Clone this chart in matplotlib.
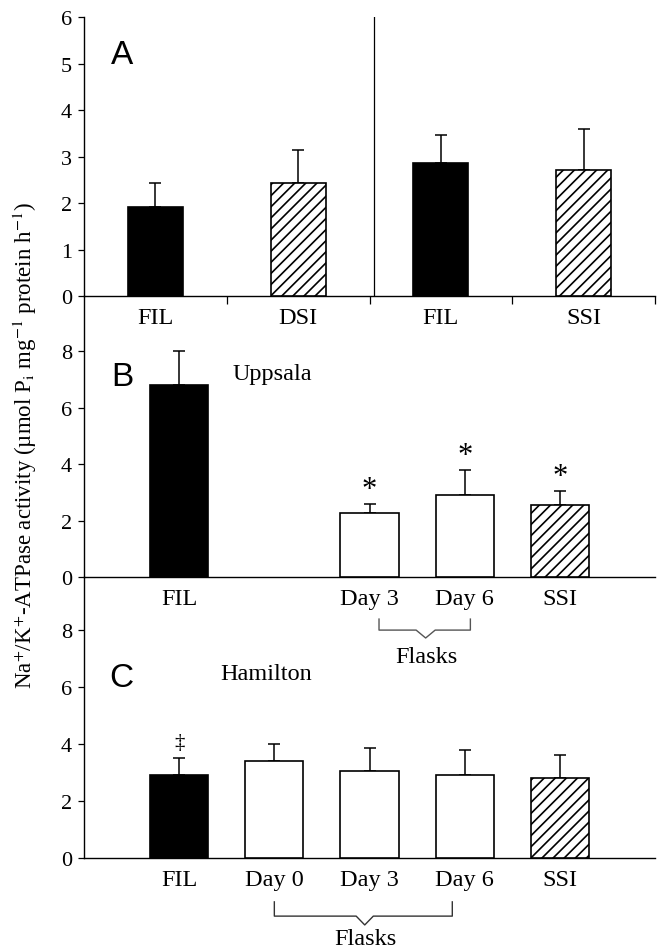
import matplotlib
matplotlib.use("Agg")
import matplotlib.pyplot as plt

plt.rcParams["font.family"] = ["Liberation Serif", "DejaVu Serif"]
plt.rcParams["mathtext.fontset"] = "stix"
plt.rcParams["hatch.linewidth"] = 1.2

# panel A
a_labels = ["FIL", "DSI", "FIL", "SSI"]
a_means = [1.92, 2.43, 2.86, 2.71]
a_err = [0.51, 0.71, 0.60, 0.89]
a_hatched = [False, True, False, True]

# panel B (Uppsala)
b_labels = ["FIL", "Day 3", "Day 6", "SSI"]
b_slots = [1, 3, 4, 5]
b_means = [6.80, 2.25, 2.90, 2.55]
b_err = [1.20, 0.35, 0.90, 0.50]
b_kind = ["fil", "flask", "flask", "ssi"]
b_star = [False, True, True, True]

# panel C (Hamilton)
c_labels = ["FIL", "Day 0", "Day 3", "Day 6", "SSI"]
c_slots = [1, 2, 3, 4, 5]
c_means = [2.90, 3.39, 3.04, 2.89, 2.80]
c_err = [0.60, 0.61, 0.80, 0.90, 0.80]
c_kind = ["fil", "flask", "flask", "flask", "ssi"]

TICK_FS = 16
LAB_FS = 17.5
PANEL_FONT = ["Liberation Sans Narrow", "Liberation Sans"]


def bar_style(kind):
    if kind == "fil":
        return dict(color="black", edgecolor="black")
    if kind == "ssi":
        return dict(color="white", edgecolor="black", hatch="///")
    return dict(color="white", edgecolor="black")


def setup_axis(ax, yticks):
    ax.patch.set_visible(False)
    for s in ["top", "right"]:
        ax.spines[s].set_visible(False)
    ax.spines["left"].set_linewidth(1.0)
    ax.spines["bottom"].set_linewidth(1.0)
    ax.set_yticks(yticks)
    ax.tick_params(axis="y", direction="out", length=4.5, width=0.9,
                   labelsize=TICK_FS, pad=4)


fig = plt.figure(figsize=(6.58, 9.53), dpi=100)
W, H = 658.0, 953.0
left = 84 / W
width = (655 - 84) / W

# ---- A ----
axA = fig.add_axes([left, 1 - 297 / H, width, (297 - 18) / H])
a_x = [i + 0.5 for i in range(len(a_labels))]
for x, m, e, h in zip(a_x, a_means, a_err, a_hatched):
    st = bar_style("ssi" if h else "fil")
    axA.bar(x, m, width=0.385, linewidth=1.2, zorder=3, **st)
    axA.errorbar(x, m, yerr=[[0], [e]], fmt="none", ecolor="black",
                 elinewidth=1.1, capsize=4.5, capthick=1.1, zorder=2)
axA.set_xlim(0, 4)
axA.set_ylim(0, 6)
setup_axis(axA, range(0, 7))
axA.set_xticks([1, 2, 3, 4])
axA.set_xticklabels([])
axA.tick_params(axis="x", which="major", direction="out", length=5.5, width=0.9)
axA.set_xticks(a_x, minor=True)
axA.set_xticklabels(a_labels, minor=True)
axA.tick_params(axis="x", which="minor", length=0, labelsize=LAB_FS, pad=8)
axA.axvline(2.03, color="black", lw=0.9)
axA.text(0.27, 5.2, "A", family=PANEL_FONT, fontsize=24, ha="center", va="center")

# ---- B ----
axB = fig.add_axes([left, 1 - 578 / H, width, (578 - 297) / H])
for x, m, e, k, s in zip(b_slots, b_means, b_err, b_kind, b_star):
    axB.bar(x, m, width=0.61, linewidth=1.2, zorder=3, **bar_style(k))
    axB.errorbar(x, m, yerr=[[0], [e]], fmt="none", ecolor="black",
                 elinewidth=1.1, capsize=4.5, capthick=1.1, zorder=2)
    if s:
        axB.text(x, m + e + 0.0, "*", fontsize=22, ha="center", va="bottom")
axB.set_xlim(0, 6)
axB.set_ylim(0, 9.95)
setup_axis(axB, [0, 2, 4, 6, 8])
axB.set_xticks(b_slots)
axB.set_xticklabels(b_labels)
axB.tick_params(axis="x", length=0, labelsize=LAB_FS, pad=8)
axB.text(0.4, 7.1, "B", family=PANEL_FONT, fontsize=24, ha="center", va="center")
axB.text(1.56, 7.2, "Uppsala", fontsize=LAB_FS, ha="left", va="center")
# bracket under Day 3 / Day 6
bx = [3.1, 3.1, 3.49, 3.59, 3.69, 4.06, 4.06]
by = [-1.49, -1.88, -1.88, -2.16, -1.88, -1.88, -1.49]
axB.plot(bx, by, color="#555555", lw=1.0, clip_on=False)
axB.text(3.6, -2.8, "Flasks", fontsize=LAB_FS, ha="center", va="center")

# ---- C ----
axC = fig.add_axes([left, 1 - 858.7 / H, width, (858.7 - 578) / H])
for x, m, e, k in zip(c_slots, c_means, c_err, c_kind):
    axC.bar(x, m, width=0.61, linewidth=1.2, zorder=3, **bar_style(k))
    axC.errorbar(x, m, yerr=[[0], [e]], fmt="none", ecolor="black",
                 elinewidth=1.1, capsize=4.5, capthick=1.1, zorder=2)
axC.text(c_slots[0], c_means[0] + c_err[0] + 0.2, "\u2021", fontsize=15,
         ha="center", va="bottom")
axC.set_xlim(0, 6)
axC.set_ylim(0, 9.85)
setup_axis(axC, [0, 2, 4, 6, 8])
axC.set_xticks(c_slots)
axC.set_xticklabels(c_labels)
axC.tick_params(axis="x", length=0, labelsize=LAB_FS, pad=8)
axC.text(0.39, 6.34, "C", family=PANEL_FONT, fontsize=24, ha="center", va="center")
axC.text(1.43, 6.48, "Hamilton", fontsize=LAB_FS, ha="left", va="center")
cx = [2.0, 2.0, 2.86, 2.95, 3.04, 3.87, 3.87]
cy = [-1.55, -2.05, -2.05, -2.36, -2.05, -2.05, -1.55]
axC.plot(cx, cy, color="#333333", lw=1.0, clip_on=False)
axC.text(2.96, -2.85, "Flasks", fontsize=LAB_FS, ha="center", va="center")

fig.text(25 / W, 1 - 446 / H,
         "Na$^{+}$/K$^{+}$-ATPase activity (\u00b5mol P$_{\\mathrm{i}}$ mg$^{-1}$ protein h$^{-1}$)",
         rotation=90, ha="center", va="center", fontsize=16.5)

fig.savefig("out.png", dpi=100)
